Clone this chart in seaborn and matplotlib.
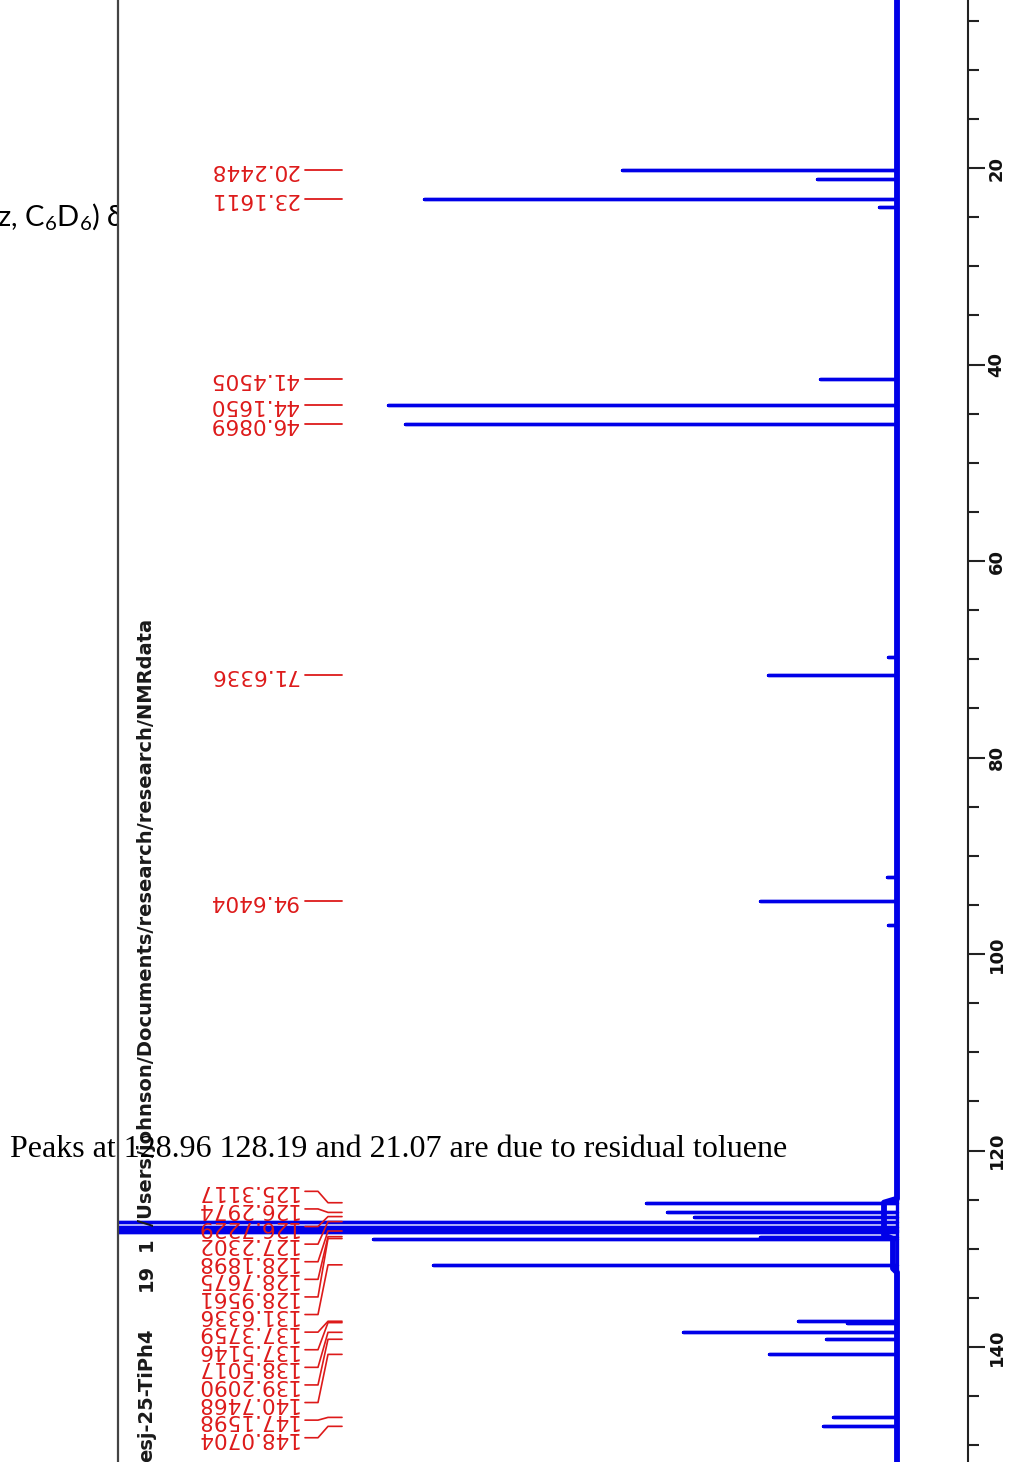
import numpy as np
import pandas as pd
import matplotlib
matplotlib.use("Agg")
import matplotlib.pyplot as plt
import matplotlib.transforms as mtransforms
from matplotlib.ticker import MultipleLocator
import seaborn as sns

# ---------------- data ----------------
peak_ppm = [20.2448, 21.07, 23.1611, 24.0, 41.4505, 44.1650, 46.0869, 69.8, 71.6336,
            92.2, 94.6404, 97.0, 125.3117, 126.2974, 126.7229, 127.2302, 127.82, 128.06,
            128.1898, 128.30, 128.7675, 128.9561, 131.6336, 137.3759, 137.5146, 138.5017,
            139.2090, 140.7468, 147.1598, 148.0704]
peak_height = [275, 80, 473, 18, 77, 509, 492, 9, 129,
               10, 137, 9, 251, 230, 203, 800, 1200, 1200,
               1200, 1200, 137, 524, 464, 99, 50, 214,
               71, 128, 64, 74]
hump_ppm = [2.9, 124.9, 125.3, 128.6, 129.0, 132.0, 132.4, 151.7]
hump_height = [0, 0, 13, 13, 4, 4, 0, 0]
label_values = [20.2448, 23.1611, 41.4505, 44.1650, 46.0869, 71.6336, 94.6404,
                125.3117, 126.2974, 126.7229, 127.2302, 128.1898, 128.7675, 128.9561,
                131.6336, 137.3759, 137.5146, 138.5017, 139.2090, 140.7468,
                147.1598, 148.0704]
tick_values = [20, 40, 60, 80, 100, 120, 140]
note_text = "Peaks at 128.96 128.19 and 21.07 are due to residual toluene"
path_parts = ["esj-25-TiPh4", "19", "1", "/Users/johnson/Documents/research/research/NMRdata"]

# ---------------- figure ----------------
sns.set_theme(style="white")
plt.rcParams['font.family'] = ['DejaVu Sans']
plt.rcParams['mathtext.fontset'] = 'custom'
plt.rcParams['mathtext.rm'] = 'Lato'
plt.rcParams['mathtext.it'] = 'Lato'
W, H = 1012, 1462
fig = plt.figure(figsize=(W / 100, H / 100), dpi=100)
fig.patch.set_facecolor("white")
AX_L, AX_R = 118, 968
ax = fig.add_axes([AX_L / W, 0, (AX_R - AX_L) / W, 1])
ax.set_facecolor("white")

PPM_TOP, PPM_BOT = 2.90, 151.70
INT_LEFT, INT_RIGHT = 779, -71
BLUE = "#0000e8"

# baseline (with broad hump under the aromatic region)
base = pd.DataFrame({"ppm": hump_ppm, "intensity": hump_height})
sns.lineplot(data=base, x="intensity", y="ppm", sort=False, estimator=None,
             orient="y", color=BLUE, lw=4.2, ax=ax)

# spectrum trace built from the peak list (stick spectrum)
order = np.argsort(peak_ppm)
tr_ppm, tr_int = [PPM_TOP], [0.0]
for i in order:
    p, h = peak_ppm[i], peak_height[i]
    tr_ppm += [p, p, p]
    tr_int += [0.0, h, 0.0]
tr_ppm.append(PPM_BOT)
tr_int.append(0.0)
spec = pd.DataFrame({"ppm": tr_ppm, "intensity": tr_int})
sns.lineplot(data=spec, x="intensity", y="ppm", sort=False, estimator=None,
             orient="y", color=BLUE, lw=2.4, ax=ax)

ax.set_xlim(INT_LEFT, INT_RIGHT)
ax.set_ylim(PPM_BOT, PPM_TOP)
ax.set_xlabel("")
ax.set_ylabel("")
ax.set_xticks([])

# right-hand ppm axis
ax.yaxis.tick_right()
ax.set_yticks(tick_values)
ax.yaxis.set_minor_locator(MultipleLocator(5))
ax.tick_params(axis="y", which="major", direction="out", length=12, width=1.5,
               color="#222222", pad=2, labelsize=13, labelcolor="#111111", right=True, left=False)
ax.tick_params(axis="y", which="minor", direction="out", length=8, width=1.5,
               color="#222222", right=True, left=False)
for lab in ax.get_yticklabels():
    lab.set_rotation(90)
    lab.set_fontweight("bold")
    lab.set_va("center")
    lab.set_ha("left")
for s in ["top", "bottom"]:
    ax.spines[s].set_visible(False)
ax.spines["right"].set_color("#222222")
ax.spines["right"].set_linewidth(1.5)
ax.spines["left"].set_color("#444444")
ax.spines["left"].set_linewidth(1.6)

# ---------------- peak labels ----------------
PX_PER_PPM = H / (PPM_BOT - PPM_TOP)
gap = 17.6 / PX_PER_PPM
labs = sorted(label_values)
groups = [[v] for v in labs]

def centre(g):
    return (g[0] + g[-1]) / 2

def span(g):
    c = centre(g)
    n = len(g)
    return c - (n - 1) * gap / 2, c + (n - 1) * gap / 2

changed = True
while changed:
    changed = False
    for i in range(len(groups) - 1):
        a, b = groups[i], groups[i + 1]
        d = span(b)[0] - span(a)[1]
        if d < gap or (len(a) > 1 and len(b) > 1 and d < 2 * gap):
            groups[i] = a + b
            del groups[i + 1]
            changed = True
            break

def fx(px):
    return (px - AX_L) / (AX_R - AX_L)

tr = mtransforms.blended_transform_factory(ax.transAxes, ax.transData)
RED = "#dd1a1a"
for g in groups:
    top = span(g)[0]
    for k, p in enumerate(g):
        yl = top + k * gap
        ax.text(fx(298), yl, f"{p:.4f}", rotation=180, ha="right", va="center",
                color=RED, fontsize=15.5, family="DejaVu Sans", transform=tr,
                clip_on=False)
        if len(g) == 1:
            ax.plot([fx(305), fx(342)], [p, p], color=RED, lw=1.3, transform=tr,
                    clip_on=False)
        else:
            ax.plot([fx(305), fx(318), fx(328), fx(342)], [yl, yl, p, p], color=RED,
                    lw=1.2, transform=tr, clip_on=False)

# ---------------- other text ----------------
# vertical file path (reads bottom to top)
path_starts = [1462, 1291, 1251, 1226]
for txt, y0 in zip(path_parts, path_starts):
    fig.text(152 / W, 1 - y0 / H, txt, rotation=90, rotation_mode="anchor",
             ha="left", va="baseline", fontsize=14, fontweight="bold",
             color="#1a1a1a", family="DejaVu Sans", zorder=5)

# partly hidden caption text at the left edge (behind the plot box)
fig.text(100 / W, 1 - 226 / H, r"(151 MHz, C$_{\mathrm{6}}$D$_{\mathrm{6}}$)",
         ha="right", va="baseline", fontsize=21, color="black", family="Lato", zorder=-1)
fig.text(107 / W, 1 - 226 / H, "\u03b4", ha="left", va="baseline",
         fontsize=21, color="black", family=["Lato", "DejaVu Sans"], zorder=-1)

# note over the plot
fig.text(10 / W, 1 - 1157 / H, note_text, ha="left", va="baseline", fontsize=23,
         color="black", family="Liberation Serif", zorder=10)

fig.savefig("out.png", dpi=100, facecolor="white")
